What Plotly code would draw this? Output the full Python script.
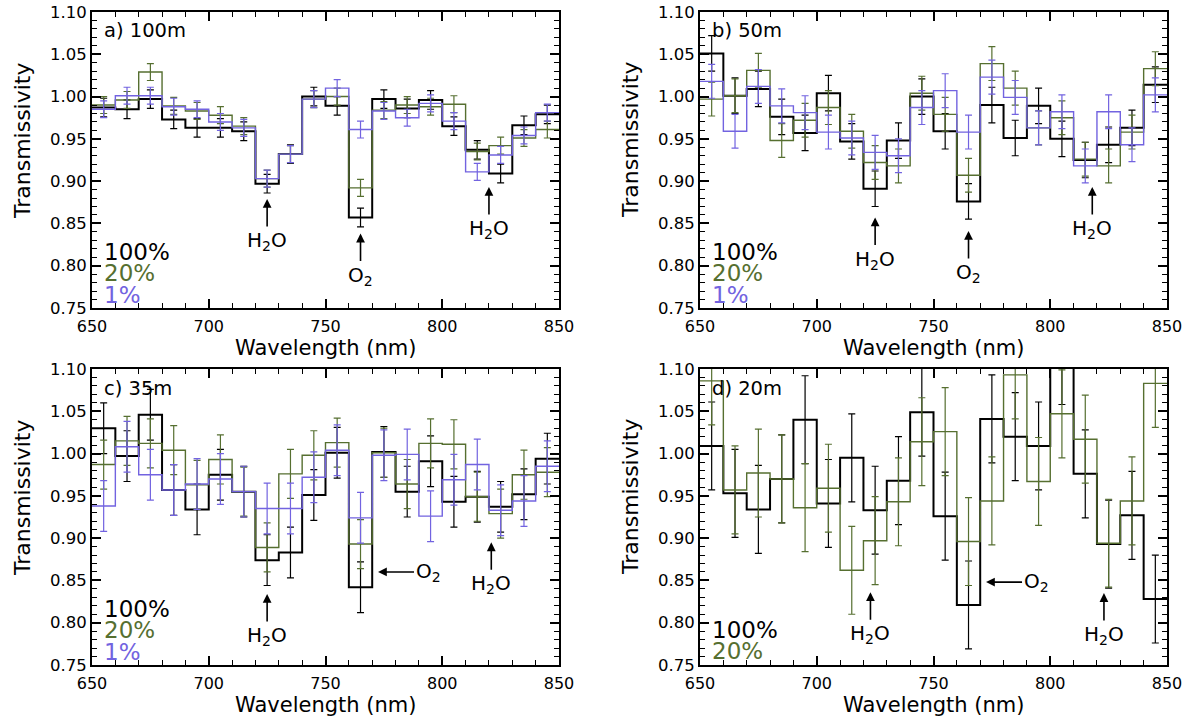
import plotly.graph_objects as go
from plotly.subplots import make_subplots

# Bin edges / centres (10 nm bins from 650 to 850 nm)
edges = list(range(650, 851, 10))
centers = [e + 5 for e in edges[:-1]]

# ---- a) 100 m ----
a_100 = [0.987, 0.985, 0.997, 0.973, 0.963, 0.963, 0.959, 0.897, 0.932, 1.000,
         0.989, 0.857, 0.997, 0.986, 0.996, 0.965, 0.937, 0.909, 0.966, 0.979]
a_20 = [0.990, 0.996, 1.029, 0.989, 0.983, 0.978, 0.965, 0.903, 0.932, 0.997,
        1.000, 0.892, 0.984, 0.990, 0.988, 0.991, 0.935, 0.942, 0.951, 0.961]
a_1 = [0.985, 1.001, 1.001, 0.988, 0.985, 0.970, 0.963, 0.903, 0.932, 0.997,
       1.010, 0.961, 0.983, 0.975, 0.992, 0.971, 0.911, 0.931, 0.954, 0.981]
a_err100 = [0.011] * 20
a_err20 = [0.010] * 20
a_err1 = [0.010] * 20

# ---- b) 50 m ----
b_100 = [1.051, 1.001, 1.009, 0.976, 0.957, 1.004, 0.947, 0.891, 0.948, 1.000,
         0.959, 0.876, 0.990, 0.951, 0.989, 0.950, 0.925, 0.943, 0.963, 1.014]
b_20 = [0.997, 1.001, 1.031, 0.948, 0.972, 0.987, 0.959, 0.922, 0.918, 1.004,
        0.979, 0.907, 1.039, 1.010, 0.963, 0.975, 0.926, 0.918, 0.958, 1.033]
b_1 = [1.018, 0.959, 1.012, 0.989, 0.981, 0.958, 0.951, 0.934, 0.930, 0.987,
       1.007, 0.958, 1.023, 0.999, 0.963, 0.982, 0.918, 0.982, 0.943, 1.002]
b_err100 = [0.021] * 20
b_err20 = [0.020] * 20
b_err1 = [0.020] * 20

# ---- c) 35 m ----
c_100 = [1.030, 0.997, 1.046, 0.957, 0.934, 0.975, 0.955, 0.874, 0.883, 0.951,
         1.001, 0.842, 1.002, 0.955, 0.991, 0.943, 0.949, 0.937, 0.952, 0.994]
c_20 = [0.987, 1.015, 1.012, 1.004, 0.963, 0.993, 0.955, 0.889, 0.976, 0.998,
        1.013, 0.893, 1.001, 0.964, 1.012, 1.011, 0.949, 0.929, 0.975, 0.978]
c_1 = [0.938, 1.008, 0.975, 0.957, 0.964, 0.970, 0.955, 0.935, 0.935, 0.972,
       1.004, 0.924, 0.998, 0.999, 0.926, 0.969, 0.987, 0.933, 0.944, 0.985]
c_err100 = [0.030] * 20
c_err20 = [0.029] * 20
c_err1 = [0.030] * 20

# ---- d) 20 m ----
d_100 = [1.009, 0.953, 0.934, 0.970, 1.040, 0.941, 0.995, 0.933, 0.968, 1.049,
         0.926, 0.821, 1.041, 1.020, 1.009, 1.110, 0.976, 0.893, 0.927, 0.828]
d_20 = [1.086, 0.957, 0.977, 0.970, 0.936, 0.959, 0.862, 0.897, 0.943, 1.014,
        1.026, 0.896, 0.944, 1.093, 0.967, 1.047, 1.017, 0.894, 0.944, 1.083]
d_err100 = [0.052] * 20
d_err20 = [0.052] * 20

BLACK = "#000000"
GREEN = "#566f30"
BLUE = "#7263e0"

panels = [
    dict(label="a) 100m", series=[(a_100, a_err100, BLACK), (a_20, a_err20, GREEN), (a_1, a_err1, BLUE)],
         pct=["100%", "20%", "1%"]),
    dict(label="b) 50m", series=[(b_100, b_err100, BLACK), (b_20, b_err20, GREEN), (b_1, b_err1, BLUE)],
         pct=["100%", "20%", "1%"]),
    dict(label="c) 35m", series=[(c_100, c_err100, BLACK), (c_20, c_err20, GREEN), (c_1, c_err1, BLUE)],
         pct=["100%", "20%", "1%"]),
    dict(label="d) 20m", series=[(d_100, d_err100, BLACK), (d_20, d_err20, GREEN)],
         pct=["100%", "20%"]),
]
pct_colors = [BLACK, GREEN, BLUE]

# Absorption feature markers: (x tip, y tip, text, direction)
H2O = "H<sub>2</sub>O"
O2 = "O<sub>2</sub>"
features = [
    [(725, 0.879, H2O, "up"), (765, 0.838, O2, "up"), (820, 0.893, H2O, "up")],
    [(725, 0.857, H2O, "up"), (765, 0.841, O2, "up"), (818, 0.893, H2O, "up")],
    [(725, 0.834, H2O, "up"), (772.5, 0.860, O2, "left"), (821, 0.895, H2O, "up")],
    [(723, 0.836, H2O, "up"), (772.5, 0.848, O2, "left"), (823, 0.835, H2O, "up")],
]

fig = make_subplots(rows=2, cols=2)

FONT = "DejaVu Sans"
W, H = 1194, 721
xdom = [[92 / W, 559 / W], [700 / W, 1167 / W]]
ydom = [[1 - 308 / H, 1 - 12 / H], [1 - 665 / H, 1 - 369 / H]]

for i, p in enumerate(panels):
    r, c = i // 2 + 1, i % 2 + 1
    for vals, errs, col in p["series"]:
        lw = 2.0 if col == BLACK else 1.4
        fig.add_trace(go.Scatter(x=edges, y=vals + [vals[-1]], mode="lines",
                                 line=dict(shape="hv", color=col, width=lw),
                                 hoverinfo="skip", showlegend=False), row=r, col=c)
        fig.add_trace(go.Scatter(x=centers, y=vals, mode="markers",
                                 marker=dict(size=0.1, color=col),
                                 error_y=dict(type="data", array=errs, color=col,
                                              thickness=1.2, width=3.5),
                                 hoverinfo="skip", showlegend=False), row=r, col=c)

    n = i + 1
    xa = "x" if n == 1 else f"x{n}"
    ya = "y" if n == 1 else f"y{n}"
    xdomain = xdom[c - 1]
    ydomain = ydom[r - 1]

    # panel label
    fig.add_annotation(x=xdomain[0] + 10 / W, y=ydomain[1] - 19 / H, xref="paper", yref="paper",
                       text=p["label"], showarrow=False, xanchor="left", yanchor="middle",
                       font=dict(family=FONT, size=19.5, color="black"))
    # concentration labels (tightly stacked)
    ybase = ydomain[0] + (57 if len(p["pct"]) == 3 else 36) / H
    for k, t in enumerate(p["pct"]):
        fig.add_annotation(x=xdomain[0] + 10 / W, y=ybase - k * 21.5 / H,
                           xref="paper", yref="paper", text=t, showarrow=False,
                           xanchor="left", yanchor="middle", height=21, valign="middle",
                           font=dict(family=FONT, size=23, color=pct_colors[k]))
    # axis titles
    fig.add_annotation(x=(xdomain[0] + xdomain[1]) / 2, y=ydomain[0] - 40 / H,
                       xref="paper", yref="paper", text="Wavelength (nm)", showarrow=False,
                       xanchor="center", yanchor="middle",
                       font=dict(family=FONT, size=21, color="black"))
    fig.add_annotation(x=xdomain[0] - 70 / W, y=(ydomain[0] + ydomain[1]) / 2 + 20 / H,
                       xref="paper", yref="paper", text="Transmissivity", showarrow=False,
                       textangle=-90, xanchor="center", yanchor="middle",
                       font=dict(family=FONT, size=22, color="black"))
    # feature arrows
    for fx, fy, txt, d in features[i]:
        if d == "up":
            fig.add_annotation(x=fx, y=fy, xref=xa, yref=ya, text=txt, showarrow=True,
                               ax=0, ay=42, arrowhead=2, arrowsize=1.1, arrowwidth=1.6,
                               arrowcolor="black", font=dict(family=FONT, size=20, color="black"))
        else:
            fig.add_annotation(x=fx, y=fy, xref=xa, yref=ya, text=txt, showarrow=True,
                               ax=50, ay=0, arrowhead=2, arrowsize=1.1, arrowwidth=1.6,
                               arrowcolor="black", font=dict(family=FONT, size=20, color="black"))

    fig.update_xaxes(range=[650, 850], domain=xdomain, tickvals=[650, 700, 750, 800, 850],
                     ticks="inside", ticklen=9, tickwidth=1.5, tickcolor="black",
                     minor=dict(dtick=10, ticks="inside", ticklen=5, tickwidth=1, tickcolor="black"),
                     mirror="ticks", showline=True, linecolor="black", linewidth=2,
                     showgrid=False, zeroline=False, automargin=False, ticklabelstandoff=3,
                     ticklabeloverflow="allow",
                     tickfont=dict(family=FONT, size=16, color="black"),
                     row=r, col=c)
    fig.update_yaxes(range=[0.75, 1.10], domain=ydomain,
                     tickvals=[0.75, 0.80, 0.85, 0.90, 0.95, 1.00, 1.05, 1.10], tickformat=".2f",
                     ticks="inside", ticklen=9, tickwidth=1.5, tickcolor="black",
                     minor=dict(dtick=0.01, ticks="inside", ticklen=5, tickwidth=1, tickcolor="black"),
                     mirror="ticks", showline=True, linecolor="black", linewidth=2,
                     showgrid=False, zeroline=False, automargin=False, ticklabeloverflow="allow",
                     tickfont=dict(family=FONT, size=16.5, color="black"),
                     row=r, col=c)

fig.update_layout(width=W, height=H, margin=dict(l=0, r=0, t=0, b=0),
                  paper_bgcolor="white", plot_bgcolor="white", showlegend=False)

fig.write_html("out.html")
